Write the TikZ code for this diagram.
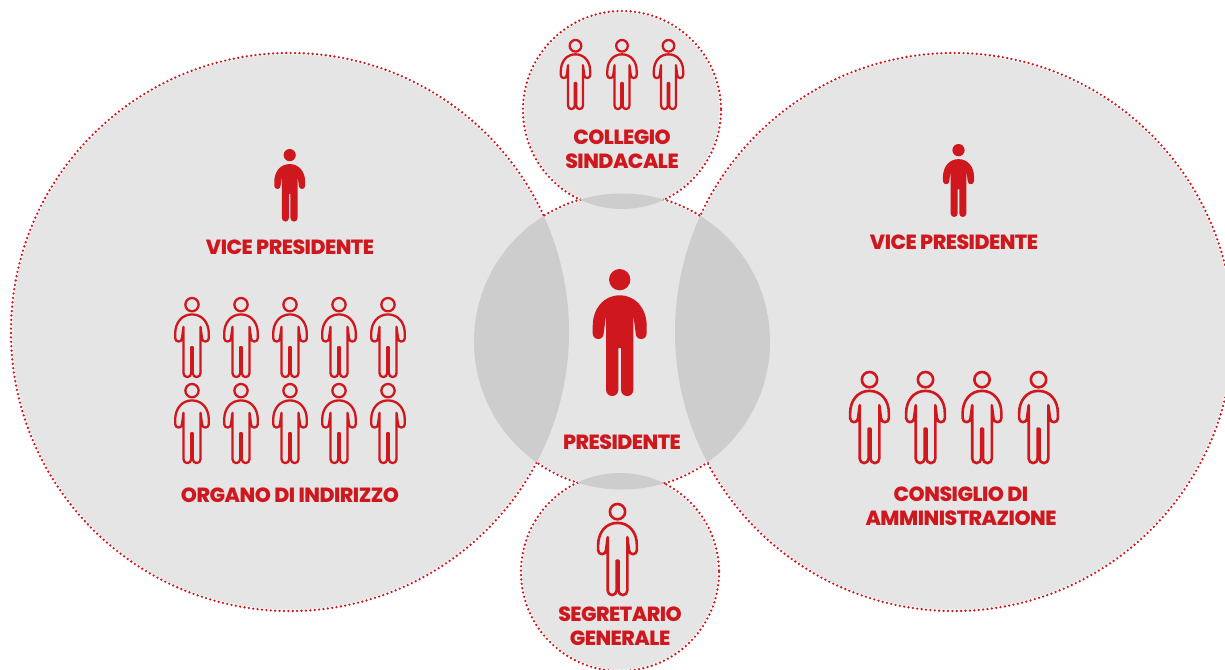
\documentclass[tikz,border=0pt]{standalone}
\usepackage{fontspec}
\setmainfont{Poppins}[LetterSpace=-2.5,BoldFont={Poppins ExtraBold}]
\definecolor{cred}{HTML}{CE181E}
\definecolor{cfill}{HTML}{E5E5E5}
\definecolor{clens}{HTML}{CDCDCD}
\tikzset{
 lab/.style={text=cred,font=\fontsize{20.5}{24}\selectfont\bfseries,align=center,inner sep=0pt},
 dotring/.style={draw=cred,line width=2.6pt,line cap=round,dash pattern=on 0pt off 4.4pt},
}
\newcommand{\figshape}{%
 (0,32) circle[radius=32]
 (0,79) .. controls (48,79) and (81,118) .. (81,172) -- (81,193)
 .. controls (81,203) and (74,210) .. (64.5,210) .. controls (55,210) and (48,203) .. (48,193)
 -- (41,139) -- (41,362) .. controls (41,373) and (33,381) .. (22.5,381) .. controls (12,381) and (4,373) .. (4,362)
 -- (4,237) -- (-4,237) -- (-4,362)
 .. controls (-4,373) and (-12,381) .. (-22.5,381) .. controls (-33,381) and (-41,373) .. (-41,362)
 -- (-41,139) -- (-48,193) .. controls (-48,203) and (-55,210) .. (-64.5,210) .. controls (-74,210) and (-81,203) .. (-81,193)
 -- (-81,172) .. controls (-81,118) and (-48,79) .. (0,79) -- cycle}
% x, top y, height
\newcommand{\solidfig}[3]{\begin{scope}[shift={(#1,#2)},x=#3pt/381,y=-#3pt/381]
 \fill[cred] \figshape;\end{scope}}
% x, top y, height, line width
\newcommand{\linefig}[4]{\begin{scope}[shift={(#1,#2+1)},x=#3pt/381-0.005pt,y=-#3pt/381+0.005pt]
 \draw[cred,line width=#4,line join=round] \figshape;
 \fill[cred] (41,139) -- (48,193) -- (41,210) -- cycle (-41,139) -- (-48,193) -- (-41,210) -- cycle;\end{scope}}
\begin{document}
\begin{tikzpicture}[x=1pt,y=-1pt]
\useasboundingbox (0,0) rectangle (1225,669);
\clip (0,0) rectangle (1225,669);
\def\cL{(290,332) circle[radius=279]}
\def\cR{(954,332) circle[radius=279]}
\def\cC{(622,341.5) circle[radius=148]}
\def\cT{(622,110) circle[radius=99]}
\def\cB{(620,572) circle[radius=99]}
\draw[dotring] \cL; \draw[dotring] \cR; \draw[dotring] \cC; \draw[dotring] \cT; \draw[dotring] \cB;
% hide the part of each ring lying inside another circle
\fill[cfill] (290,332) circle[radius=277.7];
\fill[cfill] (954,332) circle[radius=277.7];
\fill[cfill] (622,341.5) circle[radius=146.7];
\fill[cfill] (622,110) circle[radius=97.7];
\fill[cfill] (620,572) circle[radius=97.7];
% overlaps
\begin{scope}\clip \cC; \fill[clens] \cL; \fill[clens] \cR; \fill[clens] \cT; \fill[clens] \cB;\end{scope}
% people
\solidfig{619.7}{269}{127}
\solidfig{289.7}{149}{72.6}
\solidfig{958.5}{144}{73}
\foreach \px in {192,241,290,339,388} {\linefig{\px}{297}{81}{2.3pt}\linefig{\px}{383}{81}{2.3pt}}
\foreach \px in {869.5,925.5,982,1038.5} {\linefig{\px}{371}{93}{2.6pt}}
\foreach \px in {575.5,622,668.5} {\linefig{\px}{39}{71}{2.3pt}}
\linefig{617.5}{503}{93}{2.6pt}
% labels
\node[lab] (vpl) at (290,247) {VICE PRESIDENTE};
\node[lab] (vpr) at (954,242) {VICE PRESIDENTE};
\node[lab] (org) at (290,495) {ORGANO DI INDIRIZZO};
\node[lab] (pres) at (622,442) {PRESIDENTE};
\node[lab] (coll) at (622,149) {COLLEGIO\\SINDACALE};
\node[lab] (segr) at (620,626) {SEGRETARIO\\GENERALE};
\node[lab] (cons) at (961,506) {CONSIGLIO DI\\AMMINISTRAZIONE};
\end{tikzpicture}
\end{document}
